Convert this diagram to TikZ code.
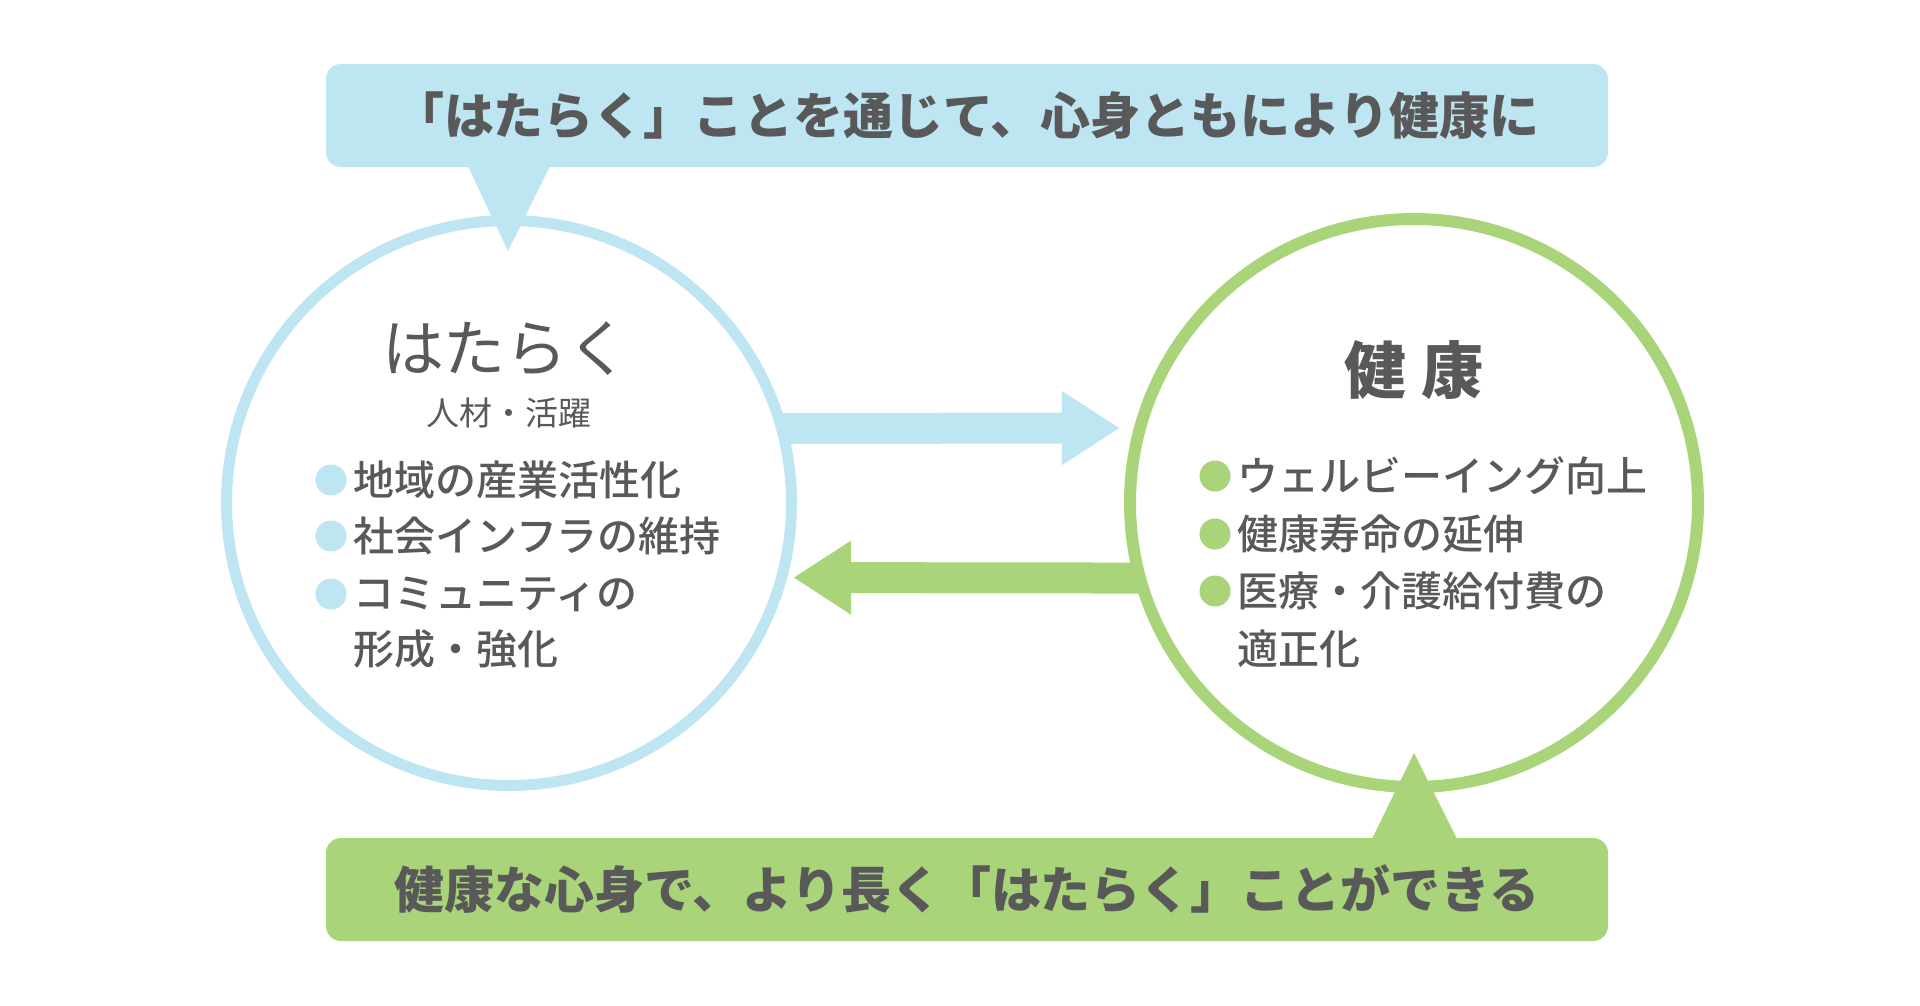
\documentclass[tikz,border=0pt]{standalone}
\usepackage{fontspec}
\newfontfamily\jp{Noto Sans CJK JP}
\newfontfamily\jpm{Noto Sans CJK JP Medium}
\usetikzlibrary{arrows.meta}
\definecolor{hblue}{HTML}{BDE6F2}
\definecolor{hgreen}{HTML}{A9D47A}
\definecolor{tgray}{HTML}{595959}

\begin{document}
\begin{tikzpicture}[x=1pt,y=-1pt,
  every node/.style={text=tgray,inner sep=0pt,font=\jp},
  ring/.style={circle,draw,fill=white,line width=11pt,minimum size=565pt},
  banner/.style={rounded corners=15pt,minimum width=1282pt,minimum height=103pt,
    font=\jp\bfseries\fontsize{50}{58}\selectfont},
  item/.style={anchor=west,font=\jpm\fontsize{41}{48}\selectfont},
  flow/.style={line width=31pt,shorten <=-6pt,-{Triangle[length=58pt,width=70pt]}}]
\useasboundingbox (0,0) rectangle (1920,1005);

% the two circles
\node[ring,draw=hblue] (work) at (509,503) {};
\node[ring,draw=hgreen,line width=12pt,minimum size=568pt] (health) at (1414,503) {};

% arrows between them
\draw[flow,hblue,shorten >=14pt] (work.15) -- (health.165);
\draw[flow,hgreen,shorten >=6pt] (health.195) -- (work.-15);

% top banner
\fill[hblue] (465,160) -- (553,160) -- (508,251) -- cycle;
\node[banner,fill=hblue] (topbox) at (967,115.5) {「はたらく」ことを通じて、心身ともにより健康に};

% bottom banner
\fill[hgreen] (1369,845) -- (1460,845) -- (1414,753) -- cycle;
\node[banner,fill=hgreen] (botbox) at (967,889.5) {健康な心身で、より長く「はたらく」ことができる};

% left circle text
\node[font=\jp\fontsize{62}{72}\selectfont] (worktitle) at (506,349) {はたらく};
\node[font=\jp\fontsize{33}{40}\selectfont] (worksub) at (509,413) {人材・活躍};
\fill[hblue] (331,480) circle (15.5);
\node[item] (w1) at (353,480) {地域の産業活性化};
\fill[hblue] (331,536) circle (15.5);
\node[item] (w2) at (353,536) {社会インフラの維持};
\fill[hblue] (331,594) circle (15.5);
\node[item] (w3) at (353,594) {コミュニティの};
\node[item] (w4) at (353,649) {形成・強化};

% right circle text
\node[font=\jp\bfseries\fontsize{62}{72}\selectfont] (healthtitle) at (1414,370) {健 康};
\fill[hgreen] (1215,476) circle (15.5);
\node[item] (h1) at (1237,476) {ウェルビーイング向上};
\fill[hgreen] (1215,534) circle (15.5);
\node[item] (h2) at (1237,534) {健康寿命の延伸};
\fill[hgreen] (1215,591) circle (15.5);
\node[item] (h3) at (1237,591) {医療・介護給付費の};
\node[item] (h4) at (1237,649) {適正化};
\end{tikzpicture}
\end{document}
